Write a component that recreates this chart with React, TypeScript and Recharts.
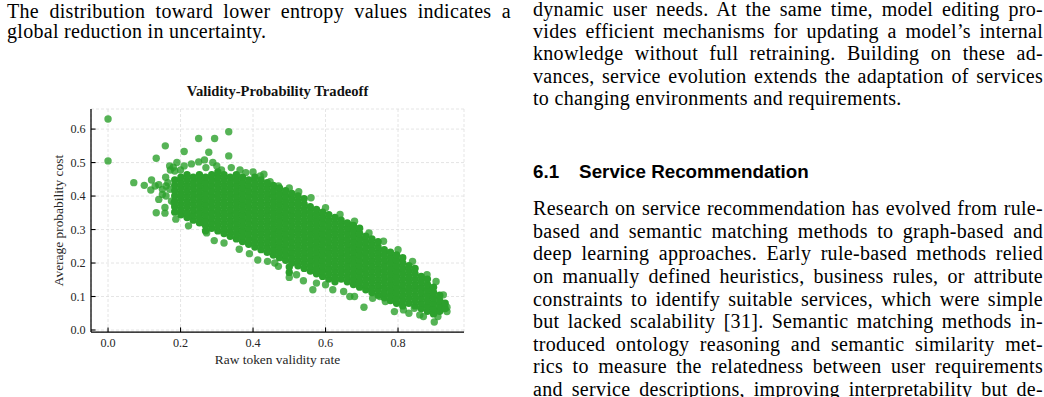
import React from 'react';
import { ScatterChart, Scatter, XAxis, YAxis, CartesianGrid } from 'recharts';

// ---------- chart data ----------
const xTicks = [0, 0.2, 0.4, 0.6, 0.8];
const xTickLabels = ['0.0', '0.2', '0.4', '0.6', '0.8'];
const yTicks = [0, 0.1, 0.2, 0.3, 0.4, 0.5, 0.6];
const yTickLabels = ['0.0', '0.1', '0.2', '0.3', '0.4', '0.5', '0.6'];

const chartTitle = 'Validity-Probability Tradeoff';
const xLabel = 'Raw token validity rate';
const yLabel = 'Average probability cost';

// dense core of the cloud, read column by column: [validity rate, costs...]
const denseColumns: [number, number[]][] = [
  [0.184, [0.352, 0.368, 0.384, 0.4, 0.416, 0.432, 0.448]],
  [0.201, [0.344, 0.36, 0.376, 0.392, 0.408, 0.424, 0.44, 0.456]],
  [0.218, [0.336, 0.352, 0.368, 0.384, 0.4, 0.416, 0.432, 0.448, 0.464]],
  [0.235, [0.328, 0.344, 0.36, 0.376, 0.392, 0.408, 0.424, 0.44, 0.456]],
  [0.252, [0.32, 0.336, 0.352, 0.368, 0.384, 0.4, 0.416, 0.432, 0.448, 0.464]],
  [0.269, [0.296, 0.312, 0.328, 0.344, 0.36, 0.376, 0.392, 0.408, 0.424, 0.44, 0.456]],
  [0.286, [0.304, 0.32, 0.336, 0.352, 0.368, 0.384, 0.4, 0.416, 0.432, 0.448, 0.464]],
  [0.303, [0.296, 0.312, 0.328, 0.344, 0.36, 0.376, 0.392, 0.408, 0.424, 0.44, 0.456, 0.472]],
  [0.32, [0.288, 0.304, 0.32, 0.336, 0.352, 0.368, 0.384, 0.4, 0.416, 0.432, 0.448, 0.464]],
  [0.337, [0.28, 0.296, 0.312, 0.328, 0.344, 0.36, 0.376, 0.392, 0.408, 0.424, 0.44, 0.456]],
  [0.354, [0.272, 0.288, 0.304, 0.32, 0.336, 0.352, 0.368, 0.384, 0.4, 0.416, 0.432, 0.448, 0.464]],
  [0.371, [0.264, 0.28, 0.296, 0.312, 0.328, 0.344, 0.36, 0.376, 0.392, 0.408, 0.424, 0.44, 0.456]],
  [0.388, [0.256, 0.272, 0.288, 0.304, 0.32, 0.336, 0.352, 0.368, 0.384, 0.4, 0.416, 0.432, 0.448]],
  [0.405, [0.248, 0.264, 0.28, 0.296, 0.312, 0.328, 0.344, 0.36, 0.376, 0.392, 0.408, 0.424, 0.44, 0.456]],
  [0.422, [0.24, 0.256, 0.272, 0.288, 0.304, 0.32, 0.336, 0.352, 0.368, 0.384, 0.4, 0.416, 0.432, 0.448]],
  [0.439, [0.232, 0.248, 0.264, 0.28, 0.296, 0.312, 0.328, 0.344, 0.36, 0.376, 0.392, 0.408, 0.424, 0.44]],
  [0.456, [0.224, 0.24, 0.256, 0.272, 0.288, 0.304, 0.32, 0.336, 0.352, 0.368, 0.384, 0.4, 0.416, 0.432]],
  [0.473, [0.216, 0.232, 0.248, 0.264, 0.28, 0.296, 0.312, 0.328, 0.344, 0.36, 0.376, 0.392, 0.408, 0.424]],
  [0.49, [0.208, 0.224, 0.24, 0.256, 0.272, 0.288, 0.304, 0.32, 0.336, 0.352, 0.368, 0.384, 0.4, 0.416]],
  [0.5, [0.172, 0.188]],
  [0.507, [0.2, 0.216, 0.232, 0.248, 0.264, 0.28, 0.296, 0.312, 0.328, 0.344, 0.36, 0.376, 0.392, 0.408]],
  [0.524, [0.192, 0.208, 0.224, 0.24, 0.256, 0.272, 0.288, 0.304, 0.32, 0.336, 0.352, 0.368, 0.384, 0.4]],
  [0.541, [0.184, 0.2, 0.216, 0.232, 0.248, 0.264, 0.28, 0.296, 0.312, 0.328, 0.344, 0.36, 0.376, 0.392]],
  [0.558, [0.176, 0.192, 0.208, 0.224, 0.24, 0.256, 0.272, 0.288, 0.304, 0.32, 0.336, 0.352, 0.368]],
  [0.575, [0.168, 0.184, 0.2, 0.216, 0.232, 0.248, 0.264, 0.28, 0.296, 0.312, 0.328, 0.344, 0.36]],
  [0.592, [0.16, 0.176, 0.192, 0.208, 0.224, 0.24, 0.256, 0.272, 0.288, 0.304, 0.32, 0.336, 0.352]],
  [0.609, [0.152, 0.168, 0.184, 0.2, 0.216, 0.232, 0.248, 0.264, 0.28, 0.296, 0.312, 0.328, 0.344]],
  [0.626, [0.144, 0.16, 0.176, 0.192, 0.208, 0.224, 0.24, 0.256, 0.272, 0.288, 0.304, 0.32, 0.336]],
  [0.643, [0.152, 0.168, 0.184, 0.2, 0.216, 0.232, 0.248, 0.264, 0.28, 0.296, 0.312, 0.328]],
  [0.66, [0.144, 0.16, 0.176, 0.192, 0.208, 0.224, 0.24, 0.256, 0.272, 0.288, 0.304, 0.32]],
  [0.677, [0.136, 0.152, 0.168, 0.184, 0.2, 0.216, 0.232, 0.248, 0.264, 0.28, 0.296, 0.312]],
  [0.694, [0.128, 0.144, 0.16, 0.176, 0.192, 0.208, 0.224, 0.24, 0.256, 0.272, 0.288, 0.304]],
  [0.711, [0.12, 0.136, 0.152, 0.168, 0.184, 0.2, 0.216, 0.232, 0.248, 0.264, 0.28]],
  [0.728, [0.112, 0.128, 0.144, 0.16, 0.176, 0.192, 0.208, 0.224, 0.24, 0.256, 0.272]],
  [0.745, [0.104, 0.12, 0.136, 0.152, 0.168, 0.184, 0.2, 0.216, 0.232, 0.248, 0.264]],
  [0.762, [0.096, 0.112, 0.128, 0.144, 0.16, 0.176, 0.192, 0.208, 0.224, 0.24]],
  [0.779, [0.088, 0.104, 0.12, 0.136, 0.152, 0.168, 0.184, 0.2, 0.216, 0.232]],
  [0.796, [0.08, 0.096, 0.112, 0.128, 0.144, 0.16, 0.176, 0.192, 0.208, 0.224]],
  [0.813, [0.072, 0.088, 0.104, 0.12, 0.136, 0.152, 0.168, 0.184, 0.2, 0.216]],
  [0.83, [0.08, 0.096, 0.112, 0.128, 0.144, 0.16, 0.176, 0.192]],
  [0.847, [0.072, 0.088, 0.104, 0.12, 0.136, 0.152, 0.168, 0.184]],
  [0.864, [0.064, 0.08, 0.096, 0.112, 0.128, 0.144, 0.16]],
  [0.881, [0.056, 0.072, 0.088, 0.104, 0.12, 0.136, 0.152]],
  [0.898, [0.048, 0.064, 0.08, 0.096, 0.112, 0.128]],
  [0.915, [0.056, 0.072, 0.088, 0.104]],
  [0.93, [0.064, 0.08]],
];

// scattered points around the core: [validity rate, cost]
const scatteredPoints: [number, number][] = [
  [0, 0.63], [0, 0.505], [0.071, 0.44], [0.1, 0.432], [0.118, 0.418], [0.12, 0.448],
  [0.13, 0.43], [0.133, 0.513], [0.133, 0.35], [0.14, 0.434], [0.14, 0.39], [0.15, 0.42],
  [0.15, 0.405], [0.157, 0.349], [0.157, 0.366], [0.158, 0.55], [0.159, 0.456], [0.16, 0.43],
  [0.16, 0.4], [0.165, 0.44], [0.17, 0.49], [0.17, 0.42], [0.172, 0.478], [0.175, 0.385],
  [0.18, 0.486], [0.182, 0.38], [0.184, 0.475], [0.187, 0.331], [0.19, 0.5], [0.2, 0.478],
  [0.21, 0.533], [0.21, 0.49], [0.222, 0.311], [0.23, 0.496], [0.23, 0.34], [0.25, 0.572],
  [0.25, 0.502], [0.262, 0.32], [0.266, 0.508], [0.27, 0.485], [0.272, 0.29], [0.278, 0.531],
  [0.289, 0.5], [0.293, 0.267], [0.294, 0.572], [0.3, 0.49], [0.313, 0.478], [0.32, 0.26],
  [0.333, 0.592], [0.333, 0.52], [0.34, 0.485], [0.362, 0.241], [0.364, 0.478], [0.38, 0.47],
  [0.39, 0.228], [0.4, 0.472], [0.413, 0.209], [0.42, 0.46], [0.43, 0.465], [0.44, 0.205],
  [0.447, 0.443], [0.46, 0.2], [0.47, 0.43], [0.47, 0.19], [0.5, 0.424], [0.5, 0.157], [0.52, 0.165],
  [0.526, 0.413], [0.539, 0.147], [0.56, 0.395], [0.565, 0.12], [0.575, 0.14], [0.6, 0.365],
  [0.6, 0.135], [0.62, 0.12], [0.64, 0.345], [0.65, 0.115], [0.667, 0.1], [0.668, 0.312],
  [0.68, 0.325], [0.68, 0.1], [0.706, 0.068], [0.72, 0.29], [0.73, 0.095], [0.75, 0.1],
  [0.76, 0.265], [0.765, 0.085], [0.79, 0.055], [0.8, 0.24], [0.815, 0.06], [0.83, 0.05],
  [0.84, 0.205], [0.845, 0.065], [0.86, 0.045], [0.87, 0.04], [0.88, 0.165], [0.9, 0.024],
  [0.905, 0.145], [0.91, 0.04], [0.91, 0.058], [0.925, 0.105], [0.935, 0.055], [0.935, 0.068],
];

// ---------- page text ----------
const leftLines = [
  'The distribution toward lower entropy values indicates a',
  'global reduction in uncertainty.',
];
const rightTopLines = [
  'dynamic user needs. At the same time, model editing pro-',
  'vides efficient mechanisms for updating a model\u2019s internal',
  'knowledge without full retraining. Building on these ad-',
  'vances, service evolution extends the adaptation of services',
  'to changing environments and requirements.',
];
const sectionNumber = '6.1';
const sectionTitle = 'Service Recommendation';
const rightBottomLines = [
  'Research on service recommendation has evolved from rule-',
  'based and semantic matching methods to graph-based and',
  'deep learning approaches. Early rule-based methods relied',
  'on manually defined heuristics, business rules, or attribute',
  'constraints to identify suitable services, which were simple',
  'but lacked scalability [31]. Semantic matching methods in-',
  'troduced ontology reasoning and semantic similarity met-',
  'rics to measure the relatedness between user requirements',
  'and service descriptions, improving interpretability but de-',
];

const corePoints = denseColumns.flatMap(([x, ys]) => ys.map((y) => ({ x, y })));
const edgePoints = scatteredPoints.map(([x, y]) => ({ x, y }));

const SERIF = '"Liberation Serif", "Times New Roman", serif';
const SANS = '"Liberation Sans", Arial, sans-serif';
const TICK_COLOR = '#262626';
const GREEN = '#2ca02c';
const BODY_SIZE = 20;

const XTick = (props: any) => {
  const { x, y, index } = props;
  return (
    <g>
      <line x1={x} x2={x} y1={y} y2={y - 4.6} stroke="#000" strokeWidth={1.1} />
      <text x={x} y={y + 15} textAnchor="middle" fontSize={12.2} fontFamily={SERIF} fill={TICK_COLOR}>
        {xTickLabels[index]}
      </text>
    </g>
  );
};

const YTick = (props: any) => {
  const { x, y, index } = props;
  return (
    <g>
      <line x1={x} x2={x + 4.6} y1={y} y2={y} stroke="#000" strokeWidth={1.1} />
      <text x={x - 5.3} y={y + 4.2} textAnchor="end" fontSize={12.2} fontFamily={SERIF} fill={TICK_COLOR}>
        {yTickLabels[index]}
      </text>
    </g>
  );
};

const XLabel = (props: any) => {
  const vb = props.viewBox || {};
  return (
    <text x={vb.x + vb.width / 2} y={vb.y + 31.5} textAnchor="middle" fontSize={13.4} fontFamily={SERIF} fill={TICK_COLOR}>
      {xLabel}
    </text>
  );
};

const YLabel = (props: any) => {
  const vb = props.viewBox || {};
  const cx = vb.x + 62.5;
  const cy = vb.y + vb.height / 2;
  return (
    <text x={cx} y={cy} transform={`rotate(-90, ${cx}, ${cy})`} textAnchor="middle" fontSize={13.4} fontFamily={SERIF} fill={TICK_COLOR}>
      {yLabel}
    </text>
  );
};

const CoreDot = (props: any) => {
  const { cx, cy } = props;
  return <circle cx={cx} cy={cy} r={3.7} fill={GREEN} fillOpacity={1} />;
};

const EdgeDot = (props: any) => {
  const { cx, cy } = props;
  return <circle cx={cx} cy={cy} r={3.7} fill={GREEN} fillOpacity={0.8} />;
};

const TextLine = ({ text, left, width, baseline, last }: any) => (
  <div
    style={{
      position: 'absolute',
      left,
      width,
      top: baseline - 17.2,
      height: 22,
      lineHeight: '22px',
      fontFamily: SERIF,
      fontSize: BODY_SIZE,
      letterSpacing: 0.3,
      whiteSpace: 'nowrap',
      textAlign: last ? 'left' : 'justify',
      textAlignLast: last ? 'left' : 'justify',
      color: '#000',
    } as React.CSSProperties}
  >
    {text}
  </div>
);

export default function App() {
  return (
    <div style={{ position: 'absolute', left: 0, top: 0, width: 1044, height: 397, overflow: 'hidden', background: '#fff' }}>
      {leftLines.map((t, i) => (
        <TextLine key={'l' + i} text={t} left={7} width={504} baseline={17 + i * 20.5} last={i === leftLines.length - 1} />
      ))}
      {rightTopLines.map((t, i) => (
        <TextLine key={'rt' + i} text={t} left={533} width={510} baseline={14.8 + i * 22.3} last={i === rightTopLines.length - 1} />
      ))}
      <div
        style={{
          position: 'absolute',
          left: 533,
          top: 178.3 - 16.5,
          height: 20,
          lineHeight: '20px',
          fontFamily: SANS,
          fontSize: 18.8,
          fontWeight: 'bold',
          whiteSpace: 'nowrap',
          color: '#000',
        }}
      >
        <span>{sectionNumber}</span>
        <span style={{ marginLeft: 20 }}>{sectionTitle}</span>
      </div>
      {rightBottomLines.map((t, i) => (
        <TextLine key={'rb' + i} text={t} left={533} width={510} baseline={214.3 + i * 22.6} last={false} />
      ))}

      <div style={{ position: 'absolute', left: 0, top: 0, width: 520, height: 397 }}>
        <div
          style={{
            position: 'absolute',
            left: 91,
            width: 373,
            top: 96.5 - 13.2,
            lineHeight: '16px',
            textAlign: 'center',
            fontFamily: SERIF,
            fontWeight: 'bold',
            fontSize: 14.6,
            color: '#111',
            whiteSpace: 'nowrap',
          }}
        >
          {chartTitle}
        </div>
        <ScatterChart width={520} height={397} margin={{ top: 109, right: 56, bottom: 0, left: 0 }}>
          <CartesianGrid stroke="#dedede" strokeDasharray="3 2" strokeWidth={0.8} />
          <XAxis
            type="number"
            dataKey="x"
            domain={[-0.047, 0.982]}
            ticks={xTicks}
            allowDataOverflow
            height={65}
            tickSize={0}
            tickMargin={0}
            tickLine={false}
            tick={<XTick />}
            axisLine={{ stroke: '#000', strokeWidth: 1.25 }}
            label={<XLabel />}
          />
          <YAxis
            type="number"
            dataKey="y"
            domain={[-0.006, 0.66]}
            ticks={yTicks}
            allowDataOverflow
            width={91}
            tickSize={0}
            tickMargin={0}
            tickLine={false}
            tick={<YTick />}
            axisLine={{ stroke: '#000', strokeWidth: 1.25 }}
            label={<YLabel />}
          />
          <XAxis
            xAxisId="top"
            orientation="top"
            type="number"
            domain={[0, 1]}
            height={0}
            tick={false}
            tickLine={false}
            axisLine={{ stroke: '#000', strokeWidth: 1.25 }}
          />
          <YAxis
            yAxisId="right"
            orientation="right"
            type="number"
            domain={[0, 1]}
            width={0}
            tick={false}
            tickLine={false}
            axisLine={{ stroke: '#000', strokeWidth: 1.25 }}
          />
          <Scatter data={edgePoints} shape={<EdgeDot />} isAnimationActive={false} />
          <Scatter data={corePoints} shape={<CoreDot />} isAnimationActive={false} />
        </ScatterChart>
      </div>
    </div>
  );
}
